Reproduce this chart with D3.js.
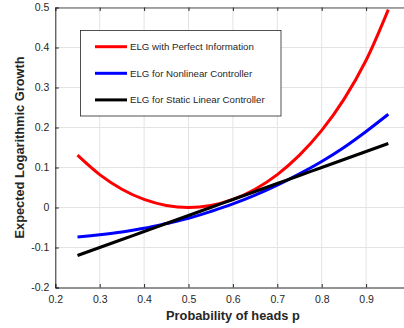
<!DOCTYPE html>
<html>
<head>
<meta charset="utf-8">
<script src="https://cdn.jsdelivr.net/npm/d3@7"></script>
<style>
  body { margin: 0; background: #fff; }
  svg { display: block; font-family: "Liberation Sans", Arial, sans-serif; }
</style>
</head>
<body>
<div id="chart"></div>
<script>
// probability of heads, sampled every 0.05
const pValues = [0.25, 0.30, 0.35, 0.40, 0.45, 0.50, 0.55, 0.60, 0.65, 0.70, 0.75, 0.80, 0.85, 0.90, 0.95];
const elgPerfect = [0.1308, 0.0823, 0.0457, 0.0201, 0.0050, 0.0000, 0.0050, 0.0201, 0.0457, 0.0823, 0.1308, 0.1927, 0.2704, 0.3681, 0.4946];
const elgNonlinear = [-0.074, -0.068, -0.061, -0.052, -0.040, -0.027, -0.010, 0.009, 0.031, 0.056, 0.084, 0.115, 0.150, 0.190, 0.233];
const elgLinear = [-0.12, -0.10, -0.08, -0.06, -0.04, -0.02, 0.00, 0.02, 0.04, 0.06, 0.08, 0.10, 0.12, 0.14, 0.16];
const xTicks = [0.2, 0.3, 0.4, 0.5, 0.6, 0.7, 0.8, 0.9, 1.0];
const xTickLabels = ["0.2", "0.3", "0.4", "0.5", "0.6", "0.7", "0.8", "0.9", ""];
const yTicks = [-0.2, -0.1, 0, 0.1, 0.2, 0.3, 0.4, 0.5];
const yTickLabels = ["-0.2", "-0.1", "0", "0.1", "0.2", "0.3", "0.4", "0.5"];
const seriesNames = ["ELG with Perfect Information", "ELG for Nonlinear Controller", "ELG for Static Linear Controller"];
const seriesColors = ["#ff0000", "#0000ff", "#000000"];

const w = 404, h = 328;
const svg = d3.select("#chart").append("svg")
  .attr("width", w)
  .attr("height", h);

const x = d3.scaleLinear().domain([0.2, 1]).range([55.3, 410.5]);
const y = d3.scaleLinear().domain([-0.2, 0.5]).range([287.5, 7.5]);

// grid
svg.append("g").selectAll("line.gx")
  .data(xTicks.slice(1))
  .enter().append("line")
  .attr("x1", (d) => x(d)).attr("x2", (d) => x(d))
  .attr("y1", y(-0.2)).attr("y2", y(0.5))
  .attr("stroke", "#e3e3e3").attr("stroke-width", 1);
svg.append("g").selectAll("line.gy")
  .data(yTicks.slice(1))
  .enter().append("line")
  .attr("x1", x(0.2)).attr("x2", x(1))
  .attr("y1", (d) => y(d)).attr("y2", (d) => y(d))
  .attr("stroke", "#e3e3e3").attr("stroke-width", 1);

// axes, ticks pointing in
const xAxis = svg.append("g")
  .attr("transform", `translate(0,${y(-0.2)})`)
  .call(d3.axisBottom(x).tickValues(xTicks).tickSize(-3.5).tickPadding(8)
    .tickFormat((d, i) => xTickLabels[i]));
const yAxis = svg.append("g")
  .attr("transform", `translate(${x(0.2)},0)`)
  .call(d3.axisLeft(y).tickValues(yTicks).tickSize(-3.5).tickPadding(6)
    .tickFormat((d, i) => yTickLabels[i]));
const xTop = svg.append("g")
  .attr("transform", `translate(0,${y(0.5)})`)
  .call(d3.axisTop(x).tickValues(xTicks).tickSize(-3.5).tickFormat(""));
const yRight = svg.append("g")
  .attr("transform", `translate(${x(1)},0)`)
  .call(d3.axisRight(y).tickValues(yTicks).tickSize(-3.5).tickFormat(""));

[xAxis, yAxis, xTop, yRight].forEach((g) => {
  g.selectAll("path").attr("stroke", "#262626").attr("stroke-width", 1);
  g.selectAll("line").attr("stroke", "#262626");
  g.selectAll("text").attr("fill", "#262626").style("font-size", "10.5px")
    .style("font-family", "'Liberation Sans', Arial, sans-serif");
});
xTop.select("path").attr("stroke", "#555");

// curves
const line = d3.line()
  .x((d) => x(d[0]))
  .y((d) => y(d[1]))
  .curve(d3.curveCatmullRom);

const series = [elgPerfect, elgNonlinear, elgLinear];
series.forEach((vals, i) => {
  svg.append("path")
    .datum(pValues.map((p, j) => [p, vals[j]]))
    .attr("d", line)
    .attr("fill", "none")
    .attr("stroke", seriesColors[i])
    .attr("stroke-width", 3)
    .attr("stroke-linecap", "butt");
});

// legend
const legend = svg.append("g");
legend.append("rect")
  .attr("x", 80.5).attr("y", 30.5)
  .attr("width", 200.5).attr("height", 85.5)
  .attr("fill", "#fff")
  .attr("stroke", "#262626").attr("stroke-width", 0.8);
seriesNames.forEach((name, i) => {
  const ly = 46.7 + i * 26.6;
  legend.append("line")
    .attr("x1", 95).attr("x2", 127)
    .attr("y1", ly).attr("y2", ly)
    .attr("stroke", seriesColors[i]).attr("stroke-width", 3);
  legend.append("text")
    .attr("x", 130).attr("y", ly + 3.4)
    .attr("fill", "#262626")
    .style("font-size", "9.7px")
    .text(name);
});

// axis titles
svg.append("text")
  .attr("x", x(0.6)).attr("y", 320)
  .attr("text-anchor", "middle")
  .attr("fill", "#262626")
  .style("font-size", "12.8px").style("font-weight", "bold")
  .text("Probability of heads p");
svg.append("text")
  .attr("transform", `translate(24,${y(0.15)}) rotate(-90)`)
  .attr("text-anchor", "middle")
  .attr("fill", "#262626")
  .style("font-size", "12.8px").style("font-weight", "bold")
  .text("Expected Logarithmic Growth");
</script>
</body>
</html>
